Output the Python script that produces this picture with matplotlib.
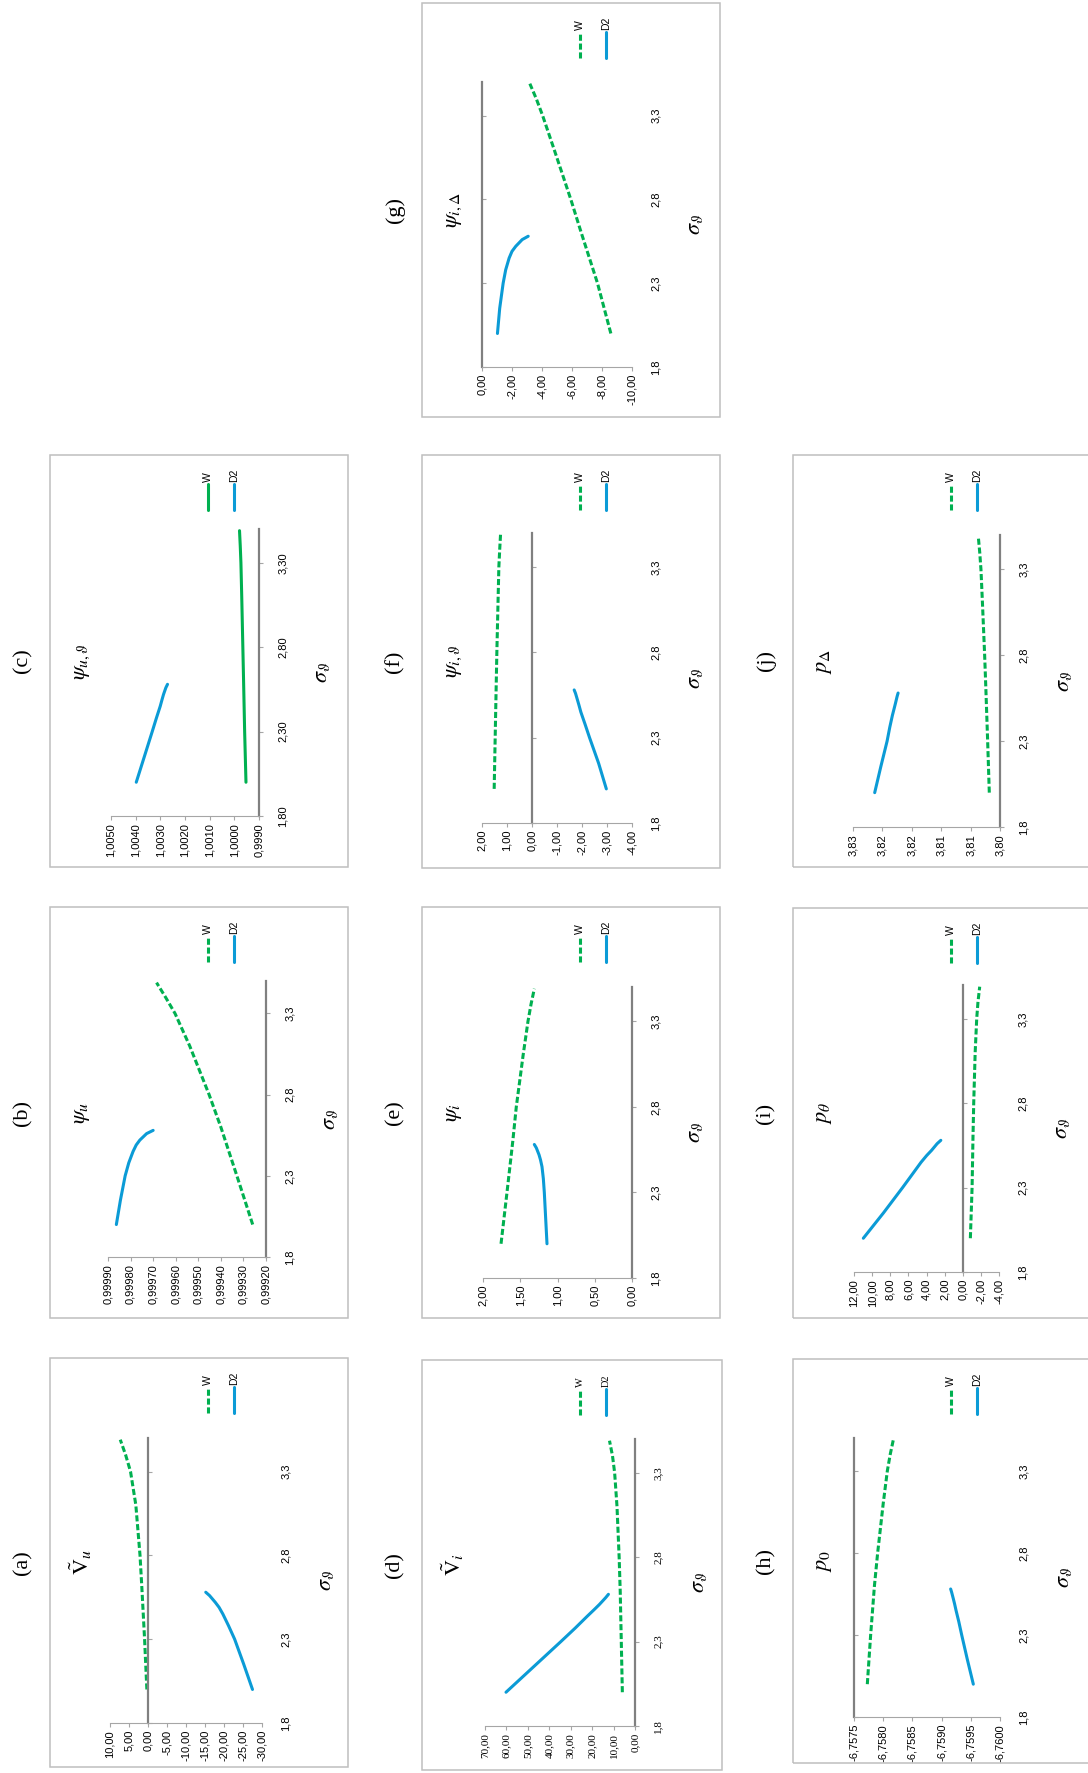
import numpy as np
import matplotlib
matplotlib.use('Agg')
import matplotlib.pyplot as plt
from matplotlib import font_manager
from matplotlib.lines import Line2D
from matplotlib.patches import Rectangle
from matplotlib.ticker import FixedLocator, FixedFormatter

W_PX, H_PX = 1088, 1773
GREEN = '#00B050'
BLUE = '#0B9BD6'

_names = {f.name for f in font_manager.fontManager.ttflist}
SANS = 'Liberation Sans Narrow' if 'Liberation Sans Narrow' in _names else 'Liberation Sans'
SERIF = 'Liberation Serif'

plt.rcParams['font.family'] = [SANS, 'DejaVu Sans']
plt.rcParams['mathtext.fontset'] = 'stix'

# sigma values of the two series
sig_w = [2.0, 2.3, 2.6, 2.8, 3.1, 3.3, 3.4, 3.49]
sig_d2 = [2.0, 2.15, 2.3, 2.38, 2.45, 2.49, 2.52, 2.56, 2.58]
sig_ticks = [1.8, 2.3, 2.8, 3.3]

# (a) V~u
a_w = [0.3, 0.9, 1.6, 2.1, 3.2, 4.6, 5.9, 7.3]
a_d2 = [-27.5, -25.2, -22.8, -21.2, -19.7, -18.7, -17.7, -16.2, -15.2]
# (b) psi_u
b_w = [0.999259, 0.999329, 0.999400, 0.999452, 0.999538, 0.999603, 0.999645, 0.999685]
b_d2 = [0.999863, 0.999845, 0.999824, 0.999808, 0.999789, 0.999775, 0.999759, 0.999729, 0.999700]
# (c) psi_u,theta
c_w = [0.999528, 0.999582, 0.999625, 0.999655, 0.999700, 0.999733, 0.999760, 0.999790]
c_d2 = [1.003976, 1.003652, 1.003329, 1.003160, 1.003005, 1.002930, 1.002871, 1.002776, 1.002709]
# (d) V~i
d_w = [5.9, 6.4, 6.9, 7.4, 8.4, 9.5, 10.5, 11.9]
d_d2 = [60.2, 47.4, 34.6, 27.9, 22.3, 19.0, 16.6, 13.7, 12.4]
# (e) psi_i
e_w = [1.758, 1.678, 1.600, 1.553, 1.462, 1.396, 1.355, 1.311]
e_d2 = [1.141, 1.159, 1.177, 1.190, 1.208, 1.228, 1.248, 1.284, 1.311]
# (f) psi_i,theta
f_w = [1.513, 1.473, 1.433, 1.406, 1.358, 1.326, 1.293, 1.259]
f_d2 = [-2.973, -2.665, -2.303, -2.12, -1.955, -1.88, -1.821, -1.741, -1.687]
# (g) psi_i,Delta
g_w = [-8.59, -7.70, -6.62, -5.92, -4.80, -4.04, -3.62, -3.19]
g_d2 = [-1.03, -1.18, -1.41, -1.58, -1.81, -2.00, -2.25, -2.68, -3.08]
# (h) p_0
h_w = [-6.757728, -6.757785, -6.757850, -6.757905, -6.758000, -6.758071, -6.758120, -6.758174]
h_d2 = [-6.759543, -6.759441, -6.759344, -6.759295, -6.759247, -6.759222, -6.759201,
        -6.759172, -6.759155]
# (i) p_theta
i_w = [-0.84, -1.03, -1.13, -1.21, -1.37, -1.54, -1.68, -1.87]
i_d2 = [10.97, 8.75, 6.64, 5.55, 4.60, 3.98, 3.45, 2.83, 2.42]
# (j) p_Delta
j_w = [3.80182, 3.80210, 3.80240, 3.80261, 3.80298, 3.80324, 3.80345, 3.80369]
j_d2 = [3.82131, 3.82028, 3.81920, 3.81875, 3.81830, 3.81800, 3.81778, 3.81750, 3.81733]
j_ticks = [3.825, 3.820, 3.815, 3.810, 3.805, 3.800]
j_labels = ['3,83', '3,82', '3,82', '3,81', '3,81', '3,80']

fig = plt.figure(figsize=(W_PX / 100, H_PX / 100), dpi=100)


def fx(x):
    return x / W_PX


def fy(y):
    return 1 - y / H_PX


def draw_panel(tag, title, w, d2, vmax, vmin, step, dec, cross, axpx, box,
               sig_dec=1, w_solid=False, serif=False, vticks=None, vlabels=None):
    font = SERIF if serif else SANS
    x0, x1, y0, y1 = axpx
    ax = fig.add_axes([fx(x0), fy(y1), (x1 - x0) / W_PX, (y1 - y0) / H_PX])
    ax.set_facecolor('none')

    if w_solid:
        ax.plot(w, sig_w, color=GREEN, lw=2.2, solid_capstyle='round')
    else:
        ax.plot(w, sig_w, color=GREEN, lw=2.2, dashes=(2.0, 0.9))
    ax.plot(d2, sig_d2, color=BLUE, lw=2.2, solid_capstyle='round', solid_joinstyle='round')

    ax.set_xlim(vmax, vmin)
    ax.set_ylim(1.8, 3.5)

    if vticks is None:
        n = int(round((vmax - vmin) / step))
        vticks = list(np.linspace(vmax, vmin, n + 1))
        vlabels = [f'{(0.0 if abs(v) < step / 2 else v):.{dec}f}'.replace('.', ',')
                   for v in vticks]
    ax.xaxis.set_major_locator(FixedLocator(vticks))
    ax.xaxis.set_major_formatter(FixedFormatter(vlabels))
    ax.tick_params(axis='x', direction='out', length=3, width=0.8, color='#A6A6A6',
                   labelrotation=90, labelsize=8, pad=2)
    for t in ax.get_xticklabels():
        t.set_fontfamily(font)

    # category labels sit at the right edge of the plot area
    lab = ax.twinx()
    lab.set_ylim(1.8, 3.5)
    lab.set_yticks(sig_ticks, [f'{s:.{sig_dec}f}'.replace('.', ',') for s in sig_ticks])
    lab.tick_params(axis='y', length=0, pad=13.5, labelrotation=90, labelsize=8)
    for t in lab.get_yticklabels():
        t.set_fontfamily(font)
        t.set_verticalalignment('center')
    for s in lab.spines.values():
        s.set_visible(False)
    lab.set_ylabel(r'$\sigma_\vartheta$', fontsize=16, rotation=90, ha='center',
                   va='center', rotation_mode='default')
    lab.yaxis.set_label_coords(1 + 63 / (x1 - x0), 0.5)

    # category axis line crosses the value axis at `cross`
    ax.spines['top'].set_visible(False)
    ax.spines['left'].set_visible(False)
    ax.spines['bottom'].set_color('#A6A6A6')
    ax.spines['bottom'].set_linewidth(0.8)
    ax.spines['right'].set_position(('data', cross))
    ax.spines['right'].set_color('#808080')
    ax.spines['right'].set_linewidth(1.6)
    ax.yaxis.set_ticks_position('right')
    ax.set_yticks(sig_ticks)
    ax.tick_params(axis='y', direction='out', length=3, width=0.8, color='#A6A6A6',
                   labelright=False, labelleft=False)

    # panel frame
    bx0, by0, bx1, by1 = box
    fig.add_artist(Rectangle((fx(bx0), fy(by1)), (bx1 - bx0) / W_PX, (by1 - by0) / H_PX,
                             transform=fig.transFigure, fill=False, ec='#BFBFBF', lw=1.1))
    cy = (by0 + by1) / 2
    fig.text(fx(bx0 - 27), fy(cy), tag, rotation=90, ha='center', va='center',
             fontsize=16, family=SERIF)
    fig.text(fx(bx0 + 31), fy(cy), title, rotation=90, ha='center', va='center', fontsize=16)

    # legend, stacked left to right
    for dx, name, color, dashed in [(158, 'W', GREEN, not w_solid), (184, 'D2', BLUE, False)]:
        xx = fx(bx0 + dx)
        ln = Line2D([xx, xx], [fy(by0 + 55), fy(by0 + 29)], transform=fig.transFigure,
                    color=color, lw=2.2)
        if dashed:
            ln.set_dashes((2.0, 0.9))
        else:
            ln.set_solid_capstyle('round')
        fig.add_artist(ln)
        fig.text(xx, fy(by0 + 27), name, rotation=90, ha='center', va='bottom',
                 fontsize=7.5, family=font)


draw_panel('(a)', r'$\tilde{\mathrm{V}}_u$', a_w, a_d2, 10, -30, 5, 2, 0,
           (110, 262, 1438, 1723), (50, 1358, 348, 1767))
draw_panel('(b)', r'$\psi_u$', b_w, b_d2, 0.9999, 0.9992, 0.0001, 5, 0.9992,
           (108, 266, 981, 1257), (50, 907, 348, 1318))
draw_panel('(c)', r'$\psi_{u,\vartheta}$', c_w, c_d2, 1.005, 0.999, 0.001, 4, 0.999,
           (111, 259, 529, 816), (50, 455, 348, 867), sig_dec=2, w_solid=True)
draw_panel('(d)', r'$\tilde{\mathrm{V}}_i$', d_w, d_d2, 70, 0, 10, 2, 0,
           (485, 635, 1439, 1726), (422, 1360, 722, 1770), serif=True)
draw_panel('(e)', r'$\psi_i$', e_w, e_d2, 2, 0, 0.5, 2, 0,
           (483, 632, 987, 1278), (422, 907, 720, 1318))
draw_panel('(f)', r'$\psi_{i,\vartheta}$', f_w, f_d2, 2, -4, 1, 2, 0,
           (482, 632, 533, 823), (422, 455, 720, 868))
draw_panel('(g)', r'$\psi_{i,\Delta}$', g_w, g_d2, 0, -10, 2, 2, 0,
           (482, 632, 82, 367), (422, 3, 720, 417))
draw_panel('(h)', r'$p_0$', h_w, h_d2, -6.7575, -6.76, 0.0005, 4, -6.7575,
           (854, 1000, 1438, 1717), (793, 1359, 1100, 1763))
draw_panel('(i)', r'$p_\theta$', i_w, i_d2, 12, -4, 2, 2, 0,
           (854, 999, 985, 1272), (793, 908, 1100, 1318))
draw_panel('(j)', r'$p_\Delta$', j_w, j_d2, 3.825, 3.8, 0.005, 2, 3.8,
           (853, 1000, 535, 827), (793, 455, 1100, 867), vticks=j_ticks, vlabels=j_labels)

fig.savefig('out.png', dpi=100)
